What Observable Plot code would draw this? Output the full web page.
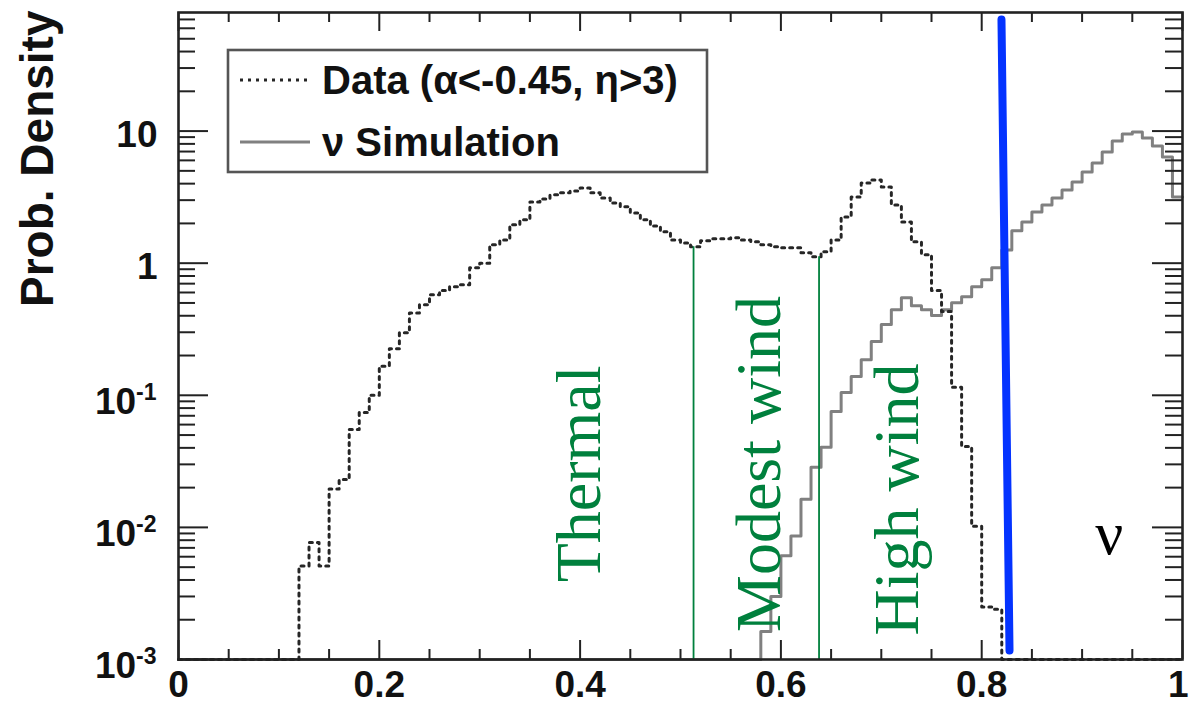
<!DOCTYPE html>
<html><head><meta charset="utf-8">
<script src="https://cdn.jsdelivr.net/npm/d3@7"></script>
<script src="https://cdn.jsdelivr.net/npm/@observablehq/plot@0.6"></script>
<style>
html,body{margin:0;padding:0;background:#fff;}
#wrap{position:relative;width:1189px;height:705px;overflow:hidden;}
</style></head><body>
<div id="wrap"></div>
<script>
// ---- data (histogram bins of width 0.01, lower edges) ----
const binStart = [0.00,0.01,0.02,0.03,0.04,0.05,0.06,0.07,0.08,0.09,
  0.10,0.11,0.12,0.13,0.14,0.15,0.16,0.17,0.18,0.19,
  0.20,0.21,0.22,0.23,0.24,0.25,0.26,0.27,0.28,0.29,
  0.30,0.31,0.32,0.33,0.34,0.35,0.36,0.37,0.38,0.39,
  0.40,0.41,0.42,0.43,0.44,0.45,0.46,0.47,0.48,0.49,
  0.50,0.51,0.52,0.53,0.54,0.55,0.56,0.57,0.58,0.59,
  0.60,0.61,0.62,0.63,0.64,0.65,0.66,0.67,0.68,0.69,
  0.70,0.71,0.72,0.73,0.74,0.75,0.76,0.77,0.78,0.79,
  0.80,0.81,0.82,0.83,0.84,0.85,0.86,0.87,0.88,0.89,
  0.90,0.91,0.92,0.93,0.94,0.95,0.96,0.97,0.98,0.99];
const binWidth = 0.01;

// Data (alpha<-0.45, eta>3) — dotted histogram
const dataValues = [0,0,0,0,0,0,0,0,0,0,
  0,0,0.0051,0.0077,0.0051,0.0195,0.023,0.055,0.074,0.10,
  0.166,0.225,0.298,0.42,0.485,0.577,0.62,0.664,0.687,0.922,
  1.0,1.38,1.50,1.95,2.13,2.91,3.06,3.29,3.41,3.52,
  3.71,3.41,3.12,2.86,2.67,2.40,2.13,1.91,1.73,1.50,
  1.42,1.33,1.48,1.53,1.53,1.56,1.50,1.45,1.38,1.33,
  1.31,1.31,1.20,1.12,1.22,1.50,2.24,3.17,4.05,4.27,
  3.78,2.76,2.05,1.45,1.16,0.62,0.43,0.115,0.041,0.0102,
  0.0025,0.0024,0,0,0,0,0,0,0,0,
  0,0,0,0,0,0,0,0,0,0];

// nu Simulation — solid grey histogram
const simValues = [0,0,0,0,0,0,0,0,0,0,
  0,0,0,0,0,0,0,0,0,0,
  0,0,0,0,0,0,0,0,0,0,
  0,0,0,0,0,0,0,0,0,0,
  0,0,0,0,0,0,0,0,0,0,
  0,0,0,0,0,0,0,0,0.00163,0.0030,
  0.0061,0.0086,0.0163,0.0285,0.0404,0.0755,0.105,0.139,0.186,0.255,
  0.343,0.445,0.548,0.477,0.445,0.401,0.445,0.502,0.557,0.664,
  0.75,0.923,1.26,1.76,2.05,2.44,2.76,3.12,3.58,4.12,
  4.90,5.73,6.93,8.41,9.49,9.83,8.85,7.71,6.36,3.17];

const seriesNames = ["Data (\u03b1<-0.45,  \u03b7>3)", "\u03bd Simulation"];

// region boundaries (green) and labels
const greenCuts = [0.513, 0.638];
const regionLabels = ["Thermal", "Modest wind", "High wind"];
const regionX = [0.3994, 0.5787, 0.7161];
const regionY = [0.0254, 0.0302, 0.01626];
const nuLabel = "\u03bd";
const nuPos = [0.927, 0.00883];
// blue cut line (top, bottom)
const blueX = [0.8197, 0.8277];
const blueY = [70, 0.00117];

// axes
const yMin = 0.001, yMax = 79;
const xMajor = [0, 0.2, 0.4, 0.6, 0.8, 1];
const xMajorLabels = ["0", "0.2", "0.4", "0.6", "0.8", "1"];
const xMinor = [0.05,0.1,0.15,0.25,0.3,0.35,0.45,0.5,0.55,0.65,0.7,0.75,0.85,0.9,0.95];
const yMajor = [0.001, 0.01, 0.1, 1, 10];
const yMajorLabels = ["10^-3", "10^-2", "10^-1", "1", "10"];
const yMinor = [0.002,0.003,0.004,0.005,0.006,0.007,0.008,0.009,
  0.02,0.03,0.04,0.05,0.06,0.07,0.08,0.09,
  0.2,0.3,0.4,0.5,0.6,0.7,0.8,0.9,
  2,3,4,5,6,7,8,9,
  20,30,40,50,60,70];

// ---- build tables ----
function steps(values) {
  const pts = [];
  binStart.forEach((x0, i) => {
    const v = Math.max(values[i], yMin);
    pts.push({x: x0, y: v}, {x: x0 + binWidth, y: v});
  });
  return pts;
}
const dataSteps = steps(dataValues);
const simSteps = steps(simValues);
function valueAt(values, x) {
  const i = binStart.findIndex(s => x >= s && x < s + binWidth);
  return values[i];
}
const regions = regionLabels.map((label, i) => ({label, x: regionX[i], y: regionY[i]}));
const blueLine = blueX.map((x, i) => ({x, y: blueY[i]}));
const yPlain = yMajor.map((v, i) => ({v, t: yMajorLabels[i]})).filter(d => !d.t.includes("^"));
const yExp = yMajor.map((v, i) => ({v, t: yMajorLabels[i]})).filter(d => d.t.includes("^"));
const xLab = xMajor.map((v, i) => ({v, t: xMajorLabels[i]}));
const xLabInner = xLab.slice(0, -1);
const xLabLast = xLab.slice(-1);

const W = 1189, H = 705, ML = 178, MR = 7, MT = 12, MB = 46;
const FW = W - ML - MR, FH = H - MT - MB;
const SANS = "'Liberation Sans', Arial, Helvetica, sans-serif";
const SERIF = "'Liberation Serif', 'Times New Roman', serif";
const GREEN = "#00803d";

const plot = Plot.plot({
  width: W, height: H,
  marginLeft: ML, marginRight: MR, marginTop: MT, marginBottom: MB,
  x: {domain: [0, 1], axis: null},
  y: {type: "log", domain: [yMin, yMax], axis: null},
  style: {fontFamily: SANS, background: "white", overflow: "visible"},
  marks: [
    Plot.line(simSteps, {x: "x", y: "y", stroke: "#808080", strokeWidth: 3}),
    Plot.line(dataSteps, {x: "x", y: "y", stroke: "#262626", strokeWidth: 3, strokeDasharray: "3,5"}),
    Plot.ruleX(greenCuts, {x: d => d, y1: yMin, y2: d => valueAt(dataValues, d), stroke: GREEN, strokeWidth: 1.8}),
    Plot.text(regions, {x: "x", y: "y", text: "label", rotate: -90, fontFamily: SERIF, fontSize: 64, fill: GREEN, lineAnchor: "middle"}),
    Plot.text([nuLabel], {x: () => nuPos[0], y: () => nuPos[1], text: d => d, fontFamily: SERIF, fontSize: 62, fill: "#000", lineAnchor: "middle"}),
    Plot.line(blueLine, {x: "x", y: "y", stroke: "#0433ff", strokeWidth: 8}),
    // ticks (inside the frame, on all four sides)
    Plot.tickX(xMajor, {x: d => d, insetTop: FH - 19, stroke: "#222", strokeWidth: 2}),
    Plot.tickX(xMinor, {x: d => d, insetTop: FH - 10, stroke: "#222", strokeWidth: 2}),
    Plot.tickX(xMajor, {x: d => d, insetBottom: FH - 19, stroke: "#222", strokeWidth: 2}),
    Plot.tickX(xMinor, {x: d => d, insetBottom: FH - 10, stroke: "#222", strokeWidth: 2}),
    Plot.tickY(yMajor, {y: d => d, insetRight: FW - 30, stroke: "#222", strokeWidth: 2}),
    Plot.tickY(yMinor, {y: d => d, insetRight: FW - 17, stroke: "#222", strokeWidth: 2}),
    Plot.tickY(yMajor, {y: d => d, insetLeft: FW - 30, stroke: "#222", strokeWidth: 2}),
    Plot.tickY(yMinor, {y: d => d, insetLeft: FW - 17, stroke: "#222", strokeWidth: 2}),
    Plot.frame({stroke: "#222", strokeWidth: 2.6}),
    // tick labels
    Plot.text(xLabInner, {x: "v", text: "t", frameAnchor: "bottom", dy: 26, fontSize: 37, fontWeight: "bold", fill: "#111", lineAnchor: "middle"}),
    Plot.text(xLabLast, {x: "v", text: "t", frameAnchor: "bottom", textAnchor: "end", dx: 6, dy: 26, fontSize: 37, fontWeight: "bold", fill: "#111", lineAnchor: "middle"}),
    Plot.text(yPlain, {y: "v", text: "t", frameAnchor: "left", textAnchor: "end", dx: -21, dy: 4, fontSize: 37, fontWeight: "bold", fill: "#111", lineAnchor: "middle"}),
    Plot.text(yExp, {y: "v", text: "t", frameAnchor: "left", textAnchor: "end", dx: -22, dy: 7, fontSize: 37, fontWeight: "bold", fill: "#111", lineAnchor: "middle"}),
    Plot.text(["Prob. Density"], {text: d => d, frameAnchor: "top-left", dx: -140, dy: -2, rotate: -90, textAnchor: "end", fontSize: 46, fontWeight: "bold", fill: "#111", lineAnchor: "middle"})
  ]
});

// superscripts for 10^n labels
const svgNS = "http://www.w3.org/2000/svg";
plot.querySelectorAll("text").forEach(t => {
  if (t.children.length || !t.textContent.includes("^")) return;
  const [base, exp] = t.textContent.split("^");
  t.textContent = "";
  const a = document.createElementNS(svgNS, "tspan"); a.textContent = base; t.appendChild(a);
  const b = document.createElementNS(svgNS, "tspan"); b.textContent = exp;
  b.setAttribute("font-size", "23"); b.setAttribute("dy", "-14"); t.appendChild(b);
});

const wrap = document.getElementById("wrap");
wrap.appendChild(plot);

// legend box (overlay, top-left inside the frame)
const leg = d3.select(wrap).append("svg")
  .attr("width", 484).attr("height", 126)
  .style("position", "absolute").style("left", "226px").style("top", "48px");
leg.append("rect").attr("x", 2).attr("y", 2).attr("width", 479).attr("height", 122)
  .attr("fill", "white").attr("stroke", "#555").attr("stroke-width", 2.6);
const rows = [
  {name: seriesNames[0], y: 32, stroke: "#262626", dash: "3,5", w: 3},
  {name: seriesNames[1], y: 94, stroke: "#808080", dash: null, w: 3}
];
rows.forEach(r => {
  leg.append("line").attr("x1", 14).attr("x2", 84).attr("y1", r.y).attr("y2", r.y)
    .attr("stroke", r.stroke).attr("stroke-width", r.w).attr("stroke-dasharray", r.dash);
  leg.append("text").attr("x", 96).attr("y", r.y + 14)
    .attr("font-family", SANS).attr("font-weight", "bold").attr("font-size", 40)
    .attr("fill", "#111").text(r.name);
});
</script>
</body></html>
